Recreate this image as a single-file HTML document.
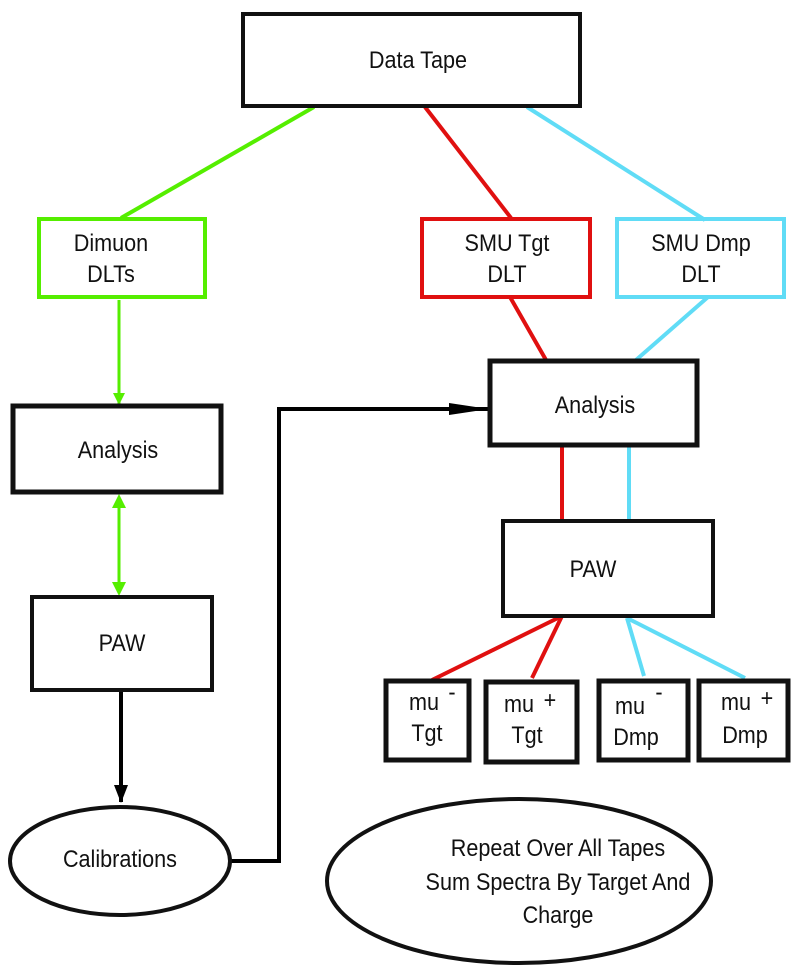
<!DOCTYPE html>
<html><head><style>body{margin:0;background:#fff}svg{display:block}text{font-family:"Liberation Sans",sans-serif;font-size:24px;fill:#111;text-anchor:middle}</style></head>
<body>
<svg width="799" height="979" viewBox="0 0 799 979" xmlns="http://www.w3.org/2000/svg">
<defs>
<marker id="ag" markerWidth="12" markerHeight="12" refX="11" refY="6" orient="auto" markerUnits="userSpaceOnUse" viewBox="0 0 12 12"><path d="M0,0 L12,6 L0,12 z" fill="#55ee00"/></marker>
<marker id="ab" markerWidth="18" markerHeight="14" refX="17" refY="7" orient="auto" markerUnits="userSpaceOnUse" viewBox="0 0 18 14"><path d="M0,0 L18,7 L0,14 z" fill="#000"/></marker>
<marker id="abw" markerWidth="40" markerHeight="14" refX="39" refY="7" orient="auto" markerUnits="userSpaceOnUse" viewBox="0 0 40 14"><path d="M0,1 L40,7 L0,13 z" fill="#000"/></marker>
</defs>
<g stroke-width="4" fill="none">
<line x1="314" y1="107" x2="121" y2="218" stroke="#55ee00"/>
<line x1="425" y1="107" x2="511" y2="218" stroke="#e01010"/>
<line x1="527" y1="107" x2="705" y2="220" stroke="#60dcf6"/>
<line x1="510" y1="297" x2="546" y2="360" stroke="#e01010"/>
<line x1="708" y1="297" x2="636" y2="360" stroke="#60dcf6"/>
<line x1="562" y1="445" x2="562" y2="520" stroke="#e01010"/>
<line x1="629" y1="445" x2="629" y2="520" stroke="#60dcf6"/>
<line x1="562" y1="616" x2="432" y2="680" stroke="#e01010"/>
<line x1="562" y1="616" x2="532" y2="678" stroke="#e01010"/>
<line x1="627" y1="618" x2="644" y2="676" stroke="#60dcf6"/>
<line x1="627" y1="618" x2="745" y2="678" stroke="#60dcf6"/>
<line x1="119" y1="300" x2="119" y2="404" stroke="#55ee00" stroke-width="3" marker-end="url(#ag)"/>
<line x1="119" y1="505" x2="119" y2="584" stroke="#55ee00" stroke-width="3"/>
<path d="M119,494 L126,508 L112,508 z M119,596 L126,582 L112,582 z" fill="#55ee00" stroke="none"/>
<line x1="121" y1="690" x2="121" y2="802" stroke="#000" marker-end="url(#ab)"/>
<polyline points="230,861 279,861 279,409 488,409" stroke="#000" marker-end="url(#abw)"/>
<rect x="243" y="14" width="337" height="92" stroke="#111"/>
<rect x="39" y="219" width="166" height="78" stroke="#55ee00"/>
<rect x="422" y="219" width="168" height="78" stroke="#e01010"/>
<rect x="617" y="219" width="167" height="78" stroke="#60dcf6"/>
<rect x="490" y="361" width="207" height="84" stroke="#111" stroke-width="5"/>
<rect x="13" y="406" width="208" height="86" stroke="#111" stroke-width="5"/>
<rect x="32" y="597" width="180" height="93" stroke="#111"/>
<rect x="503" y="521" width="210" height="95" stroke="#111"/>
<rect x="386" y="681" width="83" height="79" stroke="#111" stroke-width="5"/>
<rect x="486" y="682" width="91" height="80" stroke="#111" stroke-width="5"/>
<rect x="599" y="681" width="89" height="79" stroke="#111" stroke-width="5"/>
<rect x="699" y="681" width="89" height="79" stroke="#111" stroke-width="5"/>
<ellipse cx="120" cy="861" rx="110" ry="54" stroke="#111"/>
<ellipse cx="519" cy="881" rx="192" ry="82" stroke="#111"/>
</g>
<g transform="scale(0.9,1)">
<text x="464.4" y="68">Data Tape</text>
<text x="123.3" y="251">Dimuon</text><text x="123.3" y="282">DLTs</text>
<text x="563.3" y="251">SMU Tgt</text><text x="563.3" y="282">DLT</text>
<text x="778.9" y="251">SMU Dmp</text><text x="778.9" y="282">DLT</text>
<text x="661.1" y="413">Analysis</text>
<text x="131.1" y="458">Analysis</text>
<text x="135.6" y="651">PAW</text>
<text x="658.9" y="577">PAW</text>
<text x="471.1" y="710">mu</text><text x="502.2" y="700" font-size="18">-</text><text x="474.4" y="741">Tgt</text>
<text x="576.7" y="712">mu</text><text x="611.1" y="708">+</text><text x="585.6" y="743">Tgt</text>
<text x="700" y="714">mu</text><text x="732.2" y="700" font-size="18">-</text><text x="706.7" y="745">Dmp</text>
<text x="817.8" y="710">mu</text><text x="852.2" y="706">+</text><text x="827.8" y="743">Dmp</text>
<text x="133.3" y="867">Calibrations</text>
<text x="620" y="856">Repeat Over All Tapes</text>
<text x="620" y="890">Sum Spectra By Target And</text>
<text x="620" y="923">Charge</text>
</g>
</svg>
</body></html>
